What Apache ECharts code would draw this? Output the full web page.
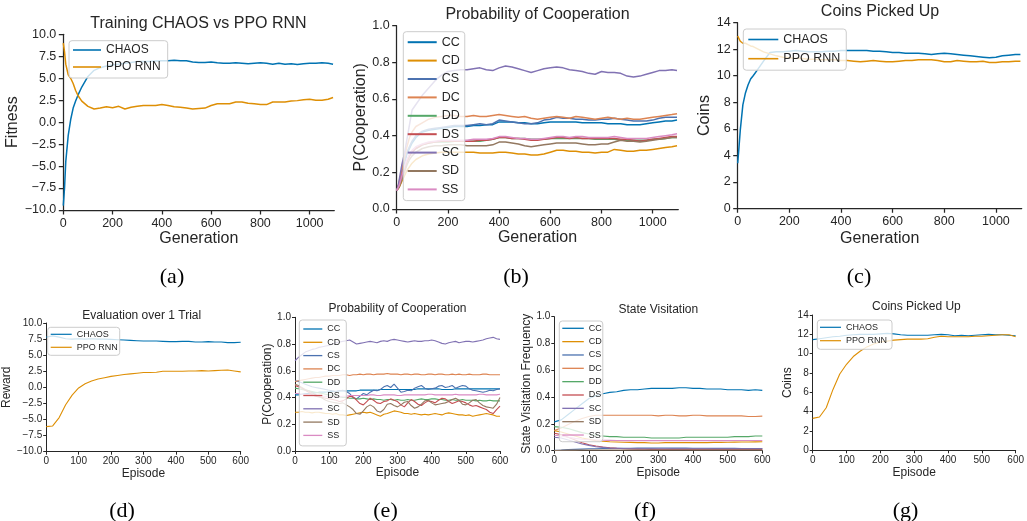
<!DOCTYPE html>
<html>
<head>
<meta charset="utf-8">
<script src="https://cdn.jsdelivr.net/npm/echarts@6/dist/echarts.min.js"></script>
<style>
  html, body { margin: 0; padding: 0; background: #fff; }
  #main { width: 1027px; height: 521px; }
</style>
</head>
<body>
<div id="main"></div>
<script>
// x values (generations for the training runs, episodes for the evaluation runs)
const genX = [0, 5, 10, 20, 30, 40, 50, 60, 75, 100,
  125, 150, 175, 200, 225, 250, 275, 300, 325, 350,
  375, 400, 425, 450, 475, 500, 525, 550, 575, 600,
  625, 650, 675, 700, 725, 750, 775, 800, 825, 850,
  875, 900, 925, 950, 975, 1000, 1025, 1050, 1075, 1095]
const epX = [0, 20, 40, 60, 80, 100, 120, 140, 160, 180,
  200, 220, 240, 260, 280, 300, 320, 340, 360, 380,
  400, 420, 440, 460, 480, 500, 520, 540, 560, 580, 600]
const epFineX = [0, 10, 20, 30, 40, 50, 60, 70, 80, 90,
  100, 110, 120, 130, 140, 150, 160, 170, 180, 190,
  200, 210, 220, 230, 240, 250, 260, 270, 280, 290,
  300, 310, 320, 330, 340, 350, 360, 370, 380, 390,
  400, 410, 420, 430, 440, 450, 460, 470, 480, 490,
  500, 510, 520, 530, 540, 550, 560, 570, 580, 590, 600]

// (a) training fitness
const chaosFit = [-9.5, -7.5, -4.5, -1.5, 0.3, 1.6, 2.4, 3.1, 4.0, 5.2,
  5.9, 6.2, 6.4, 6.5, 6.6, 6.7, 6.8, 6.9, 6.9, 6.9,
  6.95, 7.0, 7.0, 7.05, 7.0, 7.0, 6.85, 6.8, 6.8, 6.85,
  6.75, 6.7, 6.7, 6.75, 6.7, 6.65, 6.7, 6.75, 6.7, 6.6,
  6.7, 6.6, 6.65, 6.55, 6.65, 6.7, 6.7, 6.75, 6.7, 6.6]
const ppoFit = [9.0, 8.0, 6.6, 5.4, 5.0, 4.4, 3.6, 3.0, 2.4, 1.8,
  1.5, 1.6, 1.75, 1.65, 1.8, 1.5, 1.7, 1.8, 1.9, 1.9,
  1.9, 2.0, 1.9, 1.75, 1.7, 1.6, 1.5, 1.55, 1.6, 1.9,
  2.1, 2.1, 2.1, 2.3, 2.3, 2.15, 2.1, 2.0, 2.0, 2.3,
  2.3, 2.3, 2.4, 2.45, 2.55, 2.6, 2.5, 2.5, 2.6, 2.8]

// (b) training probability of cooperation per state
const pcCC = [0.10, 0.12, 0.14, 0.19, 0.25, 0.30, 0.33, 0.36, 0.39, 0.42,
  0.43, 0.435, 0.44, 0.445, 0.45, 0.45, 0.45, 0.455, 0.455, 0.46,
  0.46, 0.475, 0.475, 0.475, 0.47, 0.47, 0.465, 0.465, 0.47, 0.475,
  0.475, 0.475, 0.475, 0.475, 0.47, 0.47, 0.47, 0.47, 0.465, 0.465,
  0.465, 0.46, 0.46, 0.46, 0.465, 0.47, 0.475, 0.48, 0.48, 0.485]
const pcCD = [0.10, 0.11, 0.12, 0.15, 0.18, 0.21, 0.23, 0.25, 0.27, 0.29,
  0.30, 0.305, 0.31, 0.31, 0.31, 0.31, 0.31, 0.31, 0.305, 0.305,
  0.305, 0.31, 0.31, 0.305, 0.30, 0.30, 0.295, 0.295, 0.30, 0.31,
  0.32, 0.32, 0.315, 0.315, 0.31, 0.31, 0.305, 0.31, 0.31, 0.325,
  0.32, 0.315, 0.315, 0.32, 0.32, 0.325, 0.33, 0.335, 0.34, 0.345]
const pcCS = [0.10, 0.12, 0.14, 0.20, 0.26, 0.31, 0.34, 0.37, 0.40, 0.425,
  0.435, 0.44, 0.445, 0.45, 0.455, 0.455, 0.455, 0.46, 0.465, 0.46,
  0.465, 0.485, 0.48, 0.475, 0.47, 0.465, 0.465, 0.47, 0.485, 0.49,
  0.50, 0.495, 0.495, 0.49, 0.49, 0.485, 0.485, 0.49, 0.49, 0.495,
  0.49, 0.485, 0.48, 0.48, 0.48, 0.485, 0.495, 0.50, 0.50, 0.50]
const pcDC = [0.10, 0.12, 0.15, 0.21, 0.28, 0.34, 0.39, 0.42, 0.45, 0.47,
  0.49, 0.50, 0.505, 0.51, 0.51, 0.505, 0.505, 0.51, 0.505, 0.505,
  0.51, 0.515, 0.51, 0.505, 0.50, 0.505, 0.495, 0.49, 0.495, 0.50,
  0.505, 0.50, 0.495, 0.505, 0.50, 0.495, 0.49, 0.495, 0.50, 0.495,
  0.49, 0.495, 0.49, 0.49, 0.495, 0.50, 0.505, 0.51, 0.515, 0.52]
const pcDD = [0.10, 0.11, 0.13, 0.17, 0.22, 0.26, 0.29, 0.31, 0.33, 0.35,
  0.36, 0.365, 0.365, 0.365, 0.37, 0.37, 0.37, 0.37, 0.37, 0.375,
  0.38, 0.39, 0.39, 0.385, 0.385, 0.385, 0.38, 0.38, 0.38, 0.385,
  0.385, 0.385, 0.385, 0.385, 0.385, 0.385, 0.38, 0.38, 0.38, 0.38,
  0.375, 0.375, 0.375, 0.375, 0.375, 0.38, 0.38, 0.385, 0.39, 0.39]
const pcDS = [0.10, 0.11, 0.13, 0.18, 0.22, 0.26, 0.29, 0.31, 0.33, 0.35,
  0.36, 0.365, 0.37, 0.37, 0.37, 0.37, 0.37, 0.37, 0.375, 0.375,
  0.38, 0.39, 0.39, 0.385, 0.385, 0.38, 0.375, 0.375, 0.38, 0.385,
  0.39, 0.39, 0.385, 0.39, 0.385, 0.385, 0.385, 0.385, 0.385, 0.385,
  0.38, 0.38, 0.375, 0.37, 0.375, 0.38, 0.385, 0.39, 0.395, 0.395]
const pcSC = [0.10, 0.12, 0.16, 0.24, 0.30, 0.38, 0.46, 0.54, 0.57, 0.62,
  0.66, 0.70, 0.73, 0.75, 0.755, 0.76, 0.76, 0.765, 0.77, 0.76,
  0.755, 0.77, 0.78, 0.775, 0.765, 0.755, 0.745, 0.755, 0.765, 0.77,
  0.775, 0.77, 0.76, 0.755, 0.75, 0.74, 0.735, 0.75, 0.745, 0.745,
  0.74, 0.725, 0.72, 0.725, 0.735, 0.745, 0.755, 0.755, 0.76, 0.755]
const pcSD = [0.10, 0.11, 0.12, 0.16, 0.20, 0.24, 0.27, 0.29, 0.31, 0.33,
  0.34, 0.345, 0.345, 0.35, 0.35, 0.35, 0.345, 0.345, 0.345, 0.345,
  0.35, 0.365, 0.365, 0.36, 0.355, 0.345, 0.34, 0.345, 0.35, 0.355,
  0.36, 0.36, 0.36, 0.36, 0.355, 0.35, 0.35, 0.355, 0.355, 0.365,
  0.375, 0.37, 0.37, 0.365, 0.37, 0.375, 0.38, 0.385, 0.39, 0.39]
const pcSS = [0.10, 0.11, 0.13, 0.18, 0.23, 0.27, 0.30, 0.32, 0.34, 0.355,
  0.365, 0.37, 0.375, 0.375, 0.375, 0.375, 0.375, 0.38, 0.38, 0.38,
  0.385, 0.395, 0.395, 0.39, 0.385, 0.385, 0.38, 0.38, 0.385, 0.39,
  0.395, 0.395, 0.39, 0.395, 0.395, 0.39, 0.39, 0.39, 0.39, 0.395,
  0.39, 0.385, 0.385, 0.385, 0.385, 0.39, 0.395, 0.40, 0.405, 0.41]

// (c) training coins
const chaosCoins = [3.4, 4.6, 5.9, 7.8, 8.7, 9.3, 9.75, 10.0, 10.4, 11.1,
  11.75, 11.8, 11.8, 11.85, 11.9, 11.85, 11.8, 11.8, 11.8, 11.85,
  11.85, 11.9, 11.9, 11.9, 11.9, 11.9, 11.85, 11.85, 11.8, 11.75,
  11.75, 11.7, 11.7, 11.7, 11.65, 11.6, 11.65, 11.7, 11.65, 11.6,
  11.55, 11.5, 11.45, 11.4, 11.35, 11.4, 11.5, 11.55, 11.6, 11.6]
const ppoCoins = [13.0, 12.9, 12.6, 12.45, 12.45, 12.35, 12.25, 12.2, 12.05, 11.8,
  11.65, 11.5, 11.4, 11.35, 11.3, 11.3, 11.25, 11.25, 11.2, 11.2,
  11.2, 11.15, 11.15, 11.1, 11.05, 11.1, 11.15, 11.1, 11.05, 11.05,
  11.1, 11.15, 11.15, 11.2, 11.2, 11.2, 11.15, 11.05, 11.05, 11.15,
  11.1, 11.05, 11.05, 11.1, 11.0, 11.0, 11.05, 11.05, 11.1, 11.1]

// (d) evaluation reward
const chaosEval = [7.8, 8.0, 7.8, 7.55, 7.5, 7.55, 7.5, 7.55, 7.5, 7.5,
  7.45, 7.4, 7.35, 7.3, 7.25, 7.2, 7.2, 7.2, 7.15, 7.1,
  7.1, 7.15, 7.15, 7.05, 7.05, 7.1, 7.05, 7.05, 6.95, 6.95, 7.0]
const ppoEval = [-6.1, -6.0, -4.7, -2.7, -1.2, -0.1, 0.55, 1.0, 1.3, 1.5,
  1.7, 1.85, 2.0, 2.1, 2.2, 2.3, 2.3, 2.35, 2.5, 2.5,
  2.5, 2.5, 2.55, 2.55, 2.6, 2.55, 2.6, 2.65, 2.7, 2.55, 2.4]

// (e) evaluation probability of cooperation per state
const ecCC = [0.42, 0.42, 0.425, 0.43, 0.43, 0.435, 0.435, 0.44, 0.44, 0.44,
  0.445, 0.445, 0.445, 0.45, 0.45, 0.45, 0.45, 0.45, 0.45, 0.455,
  0.455, 0.455, 0.455, 0.455, 0.455, 0.46, 0.46, 0.46, 0.46, 0.46,
  0.46, 0.46, 0.46, 0.46, 0.46, 0.46, 0.465, 0.465, 0.465, 0.465,
  0.465, 0.465, 0.465, 0.46, 0.46, 0.46, 0.46, 0.465, 0.465, 0.465,
  0.465, 0.465, 0.465, 0.465, 0.465, 0.465, 0.465, 0.465, 0.465, 0.465, 0.465]
const ecCD = [0.29, 0.29, 0.295, 0.29, 0.29, 0.285, 0.29, 0.29, 0.285, 0.28,
  0.28, 0.275, 0.28, 0.27, 0.27, 0.265, 0.27, 0.275, 0.28, 0.285,
  0.29, 0.285, 0.29, 0.28, 0.27, 0.26, 0.275, 0.28, 0.29, 0.30,
  0.295, 0.29, 0.28, 0.28, 0.275, 0.28, 0.275, 0.27, 0.275, 0.27,
  0.275, 0.28, 0.275, 0.27, 0.28, 0.285, 0.28, 0.275, 0.27, 0.27,
  0.265, 0.27, 0.26, 0.265, 0.27, 0.275, 0.28, 0.275, 0.27, 0.26, 0.26]
const ecCS = [0.525, 0.52, 0.51, 0.50, 0.49, 0.48, 0.475, 0.47, 0.465, 0.46,
  0.455, 0.45, 0.445, 0.45, 0.455, 0.445, 0.43, 0.40, 0.39, 0.41,
  0.43, 0.42, 0.44, 0.455, 0.45, 0.46, 0.48, 0.49, 0.475, 0.50,
  0.47, 0.44, 0.445, 0.455, 0.45, 0.47, 0.48, 0.49, 0.47, 0.46,
  0.465, 0.47, 0.485, 0.49, 0.475, 0.48, 0.49, 0.47, 0.48, 0.49,
  0.485, 0.465, 0.455, 0.45, 0.445, 0.44, 0.445, 0.455, 0.45, 0.46, 0.465]
const ecDC = [0.52, 0.525, 0.53, 0.535, 0.54, 0.545, 0.55, 0.55, 0.555, 0.56,
  0.56, 0.565, 0.565, 0.565, 0.57, 0.57, 0.565, 0.57, 0.57, 0.575,
  0.57, 0.575, 0.575, 0.57, 0.575, 0.575, 0.575, 0.58, 0.575, 0.575,
  0.575, 0.57, 0.575, 0.575, 0.57, 0.575, 0.575, 0.57, 0.57, 0.575,
  0.575, 0.57, 0.575, 0.575, 0.57, 0.57, 0.575, 0.57, 0.575, 0.57,
  0.57, 0.575, 0.57, 0.57, 0.57, 0.575, 0.575, 0.57, 0.57, 0.57, 0.57]
const ecDD = [0.47, 0.465, 0.46, 0.455, 0.45, 0.445, 0.44, 0.435, 0.43, 0.425,
  0.42, 0.415, 0.41, 0.405, 0.40, 0.40, 0.395, 0.395, 0.39, 0.39,
  0.395, 0.39, 0.385, 0.39, 0.385, 0.385, 0.38, 0.385, 0.385, 0.38,
  0.385, 0.38, 0.38, 0.385, 0.38, 0.38, 0.385, 0.39, 0.385, 0.385,
  0.39, 0.39, 0.385, 0.385, 0.38, 0.38, 0.385, 0.38, 0.38, 0.385,
  0.38, 0.38, 0.38, 0.375, 0.38, 0.375, 0.375, 0.38, 0.375, 0.375, 0.375]
const ecDS = [0.49, 0.48, 0.47, 0.455, 0.44, 0.42, 0.41, 0.405, 0.40, 0.395,
  0.39, 0.385, 0.38, 0.37, 0.375, 0.39, 0.41, 0.405, 0.38, 0.355,
  0.345, 0.37, 0.395, 0.38, 0.36, 0.355, 0.37, 0.375, 0.39, 0.38,
  0.37, 0.345, 0.33, 0.36, 0.385, 0.37, 0.35, 0.34, 0.36, 0.375,
  0.37, 0.36, 0.38, 0.395, 0.39, 0.37, 0.355, 0.365, 0.375, 0.37,
  0.36, 0.345, 0.335, 0.34, 0.33, 0.32, 0.31, 0.29, 0.28, 0.31, 0.335]
const ecSC = [0.675, 0.70, 0.72, 0.74, 0.75, 0.76, 0.765, 0.775, 0.78, 0.785,
  0.79, 0.80, 0.81, 0.815, 0.82, 0.825, 0.83, 0.815, 0.80, 0.805,
  0.81, 0.815, 0.82, 0.815, 0.81, 0.82, 0.825, 0.82, 0.83, 0.835,
  0.83, 0.825, 0.82, 0.815, 0.82, 0.825, 0.82, 0.82, 0.825, 0.825,
  0.83, 0.825, 0.815, 0.805, 0.80, 0.81, 0.815, 0.82, 0.81, 0.815,
  0.82, 0.82, 0.815, 0.82, 0.825, 0.83, 0.84, 0.845, 0.85, 0.84, 0.835]
const ecSD = [0.50, 0.49, 0.475, 0.46, 0.45, 0.435, 0.42, 0.41, 0.395, 0.38,
  0.37, 0.365, 0.36, 0.355, 0.36, 0.345, 0.33, 0.31, 0.28, 0.275,
  0.30, 0.33, 0.345, 0.33, 0.30, 0.29, 0.31, 0.35, 0.355, 0.34,
  0.33, 0.345, 0.365, 0.37, 0.34, 0.32, 0.33, 0.35, 0.375, 0.38,
  0.36, 0.345, 0.35, 0.355, 0.36, 0.37, 0.385, 0.395, 0.38, 0.35,
  0.345, 0.36, 0.38, 0.385, 0.36, 0.34, 0.33, 0.325, 0.32, 0.35, 0.40]
const ecSS = [0.43, 0.43, 0.425, 0.425, 0.42, 0.42, 0.415, 0.415, 0.41, 0.41,
  0.41, 0.41, 0.405, 0.405, 0.41, 0.41, 0.415, 0.415, 0.415, 0.415,
  0.415, 0.415, 0.42, 0.42, 0.415, 0.415, 0.42, 0.42, 0.42, 0.42,
  0.415, 0.415, 0.42, 0.42, 0.42, 0.42, 0.42, 0.42, 0.42, 0.425,
  0.425, 0.42, 0.42, 0.42, 0.42, 0.42, 0.42, 0.425, 0.42, 0.42,
  0.42, 0.42, 0.42, 0.42, 0.425, 0.425, 0.42, 0.42, 0.42, 0.42, 0.425]

// (f) state visitation frequency
const svCC = [0.215, 0.23, 0.27, 0.31, 0.35, 0.39, 0.41, 0.425, 0.435, 0.44,
  0.45, 0.455, 0.455, 0.46, 0.465, 0.465, 0.465, 0.465, 0.47, 0.47,
  0.465, 0.465, 0.46, 0.46, 0.46, 0.455, 0.455, 0.455, 0.45, 0.455, 0.45]
const svCD = [0.15, 0.14, 0.125, 0.11, 0.095, 0.085, 0.075, 0.07, 0.067, 0.065,
  0.063, 0.062, 0.06, 0.06, 0.058, 0.058, 0.06, 0.06, 0.06, 0.06,
  0.06, 0.06, 0.06, 0.062, 0.062, 0.063, 0.064, 0.065, 0.065, 0.066, 0.067]
const svCS = [0.003, 0.005, 0.008, 0.01, 0.012, 0.014, 0.015, 0.016, 0.017, 0.018,
  0.018, 0.018, 0.019, 0.019, 0.019, 0.02, 0.02, 0.019, 0.019, 0.019,
  0.018, 0.018, 0.018, 0.017, 0.017, 0.017, 0.017, 0.016, 0.016, 0.016, 0.016]
const svDC = [0.15, 0.17, 0.195, 0.22, 0.24, 0.255, 0.265, 0.265, 0.265, 0.265,
  0.265, 0.265, 0.265, 0.265, 0.265, 0.26, 0.265, 0.265, 0.26, 0.26,
  0.265, 0.265, 0.26, 0.26, 0.26, 0.26, 0.26, 0.26, 0.255, 0.255, 0.258]
const svDD = [0.18, 0.175, 0.165, 0.15, 0.135, 0.125, 0.115, 0.11, 0.105, 0.105,
  0.10, 0.10, 0.10, 0.10, 0.095, 0.095, 0.095, 0.095, 0.095, 0.10,
  0.10, 0.10, 0.10, 0.10, 0.10, 0.10, 0.105, 0.105, 0.105, 0.11, 0.11]
const svDS = [0.13, 0.12, 0.10, 0.08, 0.06, 0.045, 0.035, 0.028, 0.022, 0.018,
  0.015, 0.013, 0.012, 0.011, 0.01, 0.01, 0.01, 0.01, 0.01, 0.01,
  0.01, 0.01, 0.01, 0.01, 0.01, 0.01, 0.01, 0.01, 0.01, 0.01, 0.01]
const svSC = [0.10, 0.095, 0.08, 0.065, 0.05, 0.04, 0.03, 0.025, 0.02, 0.018,
  0.016, 0.015, 0.015, 0.015, 0.014, 0.014, 0.014, 0.014, 0.014, 0.014,
  0.014, 0.014, 0.014, 0.014, 0.014, 0.014, 0.014, 0.014, 0.014, 0.014, 0.014]
const svSD = [0.002, 0.003, 0.004, 0.004, 0.005, 0.005, 0.005, 0.005, 0.005, 0.005,
  0.005, 0.005, 0.005, 0.005, 0.005, 0.005, 0.005, 0.005, 0.005, 0.005,
  0.005, 0.005, 0.005, 0.005, 0.005, 0.005, 0.005, 0.005, 0.005, 0.005, 0.005]
const svSS = [0.115, 0.11, 0.10, 0.092, 0.086, 0.082, 0.08, 0.078, 0.077, 0.076,
  0.075, 0.075, 0.075, 0.075, 0.075, 0.075, 0.075, 0.075, 0.075, 0.075,
  0.075, 0.075, 0.075, 0.075, 0.075, 0.075, 0.076, 0.076, 0.076, 0.076, 0.076]

// (g) evaluation coins
const chaosCoinsEval = [11.45, 11.55, 11.65, 11.75, 11.8, 11.9, 11.95, 12.0, 12.0, 12.0,
  12.05, 12.1, 12.05, 11.95, 11.9, 11.9, 11.9, 11.9, 11.95, 12.0,
  11.95, 11.85, 11.9, 11.85, 11.9, 11.95, 12.0, 11.95, 11.95, 11.9, 11.85]
const ppoCoinsEval = [3.3, 3.45, 4.4, 6.3, 7.9, 8.9, 9.7, 10.25, 10.7, 11.0,
  11.2, 11.3, 11.4, 11.45, 11.5, 11.5, 11.5, 11.55, 11.7, 11.8,
  11.75, 11.75, 11.75, 11.75, 11.8, 11.8, 11.85, 11.9, 11.95, 11.95, 11.75]

const FONT = "'Liberation Sans', Arial, sans-serif"
const SERIF = "'Liberation Serif', 'Times New Roman', serif"
const INK = '#262626'
const colors = {
  CHAOS: '#0173b2', 'PPO RNN': '#de8f05',
  CC: '#0173b2', CD: '#de8f05', CS: '#4c72b0', DC: '#dd8452', DD: '#55a868',
  DS: '#c44e52', SC: '#8172b3', SD: '#937860', SS: '#da8bc3'
}

const pair = (xs, ys) => xs.map((x, i) => [x, ys[i]])
const genTicks = [0, 200, 400, 600, 800, 1000]
const epTicks = [0, 100, 200, 300, 400, 500, 600]

const panels = [
  {
    grid: { left: 63.3, top: 34.3, width: 271, height: 175.7 },
    xMax: 1100, xTicks: genTicks, y: [-10, 10, 2.5, 1],
    title: 'Training CHAOS vs PPO RNN', titleAt: [198.5, 23.5],
    xName: 'Generation', xGap: 21, yName: 'Fitness', yGap: 38, big: true,
    lines: [['CHAOS', genX, chaosFit], ['PPO RNN', genX, ppoFit]],
    legend: { left: 69, top: 40.7, pad: [3.3, 7, 5, 4], iw: 28, ih: 12, gap: 5, fs: 12, lw: 1.6 },
    sub: '(a)', subAt: [172, 277]
  },
  {
    grid: { left: 396.7, top: 25.7, width: 281.6, height: 183.3 },
    xMax: 1100, xTicks: genTicks, y: [0, 1, 0.2, 1],
    title: 'Probability of Cooperation', titleAt: [537.5, 14.5],
    xName: 'Generation', xGap: 21, yName: 'P(Cooperation)', yGap: 28, big: true,
    lines: [['CC', genX, pcCC], ['CD', genX, pcCD], ['CS', genX, pcCS], ['DC', genX, pcDC],
      ['DD', genX, pcDD], ['DS', genX, pcDS], ['SC', genX, pcSC], ['SD', genX, pcSD], ['SS', genX, pcSS]],
    legend: { left: 403.3, top: 31.7, pad: [4, 5, 4.7, 4.4], iw: 29, ih: 12, gap: 5.4, fs: 12.5, lw: 2 },
    sub: '(b)', subAt: [516, 277]
  },
  {
    grid: { left: 737.7, top: 22.7, width: 284, height: 185.6 },
    xMax: 1100, xTicks: genTicks, y: [0, 14, 2, 0],
    title: 'Coins Picked Up', titleAt: [880, 11.5],
    xName: 'Generation', xGap: 22, yName: 'Coins', yGap: 23.7, big: true,
    lines: [['CHAOS', genX, chaosCoins], ['PPO RNN', genX, ppoCoins]],
    legend: { left: 743.3, top: 29, pad: [4, 6, 5, 5], iw: 30, ih: 12, gap: 6.2, fs: 12.5, lw: 1.6 },
    sub: '(c)', subAt: [859, 277]
  },
  {
    grid: { left: 42.7, top: 323, width: 198, height: 128.7 },
    xMax: 600, xTicks: epTicks, y: [-10, 10, 2.5, 1],
    title: 'Evaluation over 1 Trial', titleAt: [141.7, 315.8],
    xName: 'Episode', xGap: 15.3, yName: 'Reward', yGap: 27, big: false,
    lines: [['CHAOS', epX, chaosEval], ['PPO RNN', epX, ppoEval]],
    legend: { left: 47.7, top: 327.3, pad: [2.5, 2, 3.5, 3], iw: 21, ih: 9, gap: 4, fs: 9, lw: 1.2 },
    sub: '(d)', subAt: [122, 511]
  },
  {
    grid: { left: 295, top: 317.3, width: 205, height: 133.7 },
    xMax: 600, xTicks: epTicks, y: [0, 1, 0.2, 1],
    title: 'Probability of Cooperation', titleAt: [397.5, 309],
    xName: 'Episode', xGap: 15.5, yName: 'P(Cooperation)', yGap: 20.5, big: false,
    lines: [['CC', epFineX, ecCC], ['CD', epFineX, ecCD], ['CS', epFineX, ecCS], ['DC', epFineX, ecDC],
      ['DD', epFineX, ecDD], ['DS', epFineX, ecDS], ['SC', epFineX, ecSC], ['SD', epFineX, ecSD], ['SS', epFineX, ecSS]],
    legend: { left: 299.3, top: 320, pad: [4.5, 6, 6, 4], iw: 19, ih: 9, gap: 4.3, fs: 9, lw: 1.3 },
    sub: '(e)', subAt: [385.5, 511]
  },
  {
    grid: { left: 554.3, top: 316.7, width: 208, height: 134 },
    xMax: 600, xTicks: epTicks, y: [0, 1, 0.2, 1],
    title: 'State Visitation', titleAt: [658.3, 309.5],
    xName: 'Episode', xGap: 15.5, yName: 'State Visitation Frequency', yGap: 21, big: false,
    lines: [['CC', epX, svCC], ['CD', epX, svCD], ['CS', epX, svCS], ['DC', epX, svDC],
      ['DD', epX, svDD], ['DS', epX, svDS], ['SC', epX, svSC], ['SD', epX, svSD], ['SS', epX, svSS]],
    legend: { left: 559.3, top: 321, pad: [2.8, 1, 2.2, 3], iw: 21.5, ih: 9, gap: 4.34, fs: 9, lw: 1.3 },
    sub: '(f)', subAt: [645, 511]
  },
  {
    grid: { left: 812.7, top: 315, width: 207.3, height: 135.3 },
    xMax: 600, xTicks: epTicks, y: [0, 14, 2, 0],
    title: 'Coins Picked Up', titleAt: [916.4, 307],
    xName: 'Episode', xGap: 16, yName: 'Coins', yGap: 19.2, big: false,
    lines: [['CHAOS', epX, chaosCoinsEval], ['PPO RNN', epX, ppoCoinsEval]],
    legend: { left: 817.3, top: 320, pad: [2.8, 5, 4.1, 2.7], iw: 21, ih: 9, gap: 4.4, fs: 9, lw: 1.2 },
    sub: '(g)', subAt: [905.5, 511]
  }
]

const grids = [], xAxes = [], yAxes = [], series = [], legends = [], texts = []

panels.forEach((p, i) => {
  const big = p.big
  const lw = big ? 1.25 : 1
  const tickFs = big ? 12.5 : 10
  const nameFs = big ? 16 : 12
  const axisLine = { show: true, onZero: false, lineStyle: { color: INK, width: lw } }
  const axisTick = { show: true, length: big ? 4.5 : 3, lineStyle: { color: INK, width: lw } }
  const nameStyle = { fontSize: nameFs, color: INK, fontFamily: FONT }

  grids.push(Object.assign({ containLabel: false }, p.grid))

  xAxes.push({
    type: 'value', gridIndex: i, min: 0, max: p.xMax,
    axisLine: axisLine,
    axisTick: Object.assign({ customValues: p.xTicks }, axisTick),
    axisLabel: {
      customValues: p.xTicks, color: INK, fontSize: tickFs, fontFamily: FONT,
      margin: big ? 7 : 5, formatter: v => String(v)
    },
    splitLine: { show: false },
    name: p.xName, nameLocation: 'middle', nameGap: p.xGap, nameTextStyle: nameStyle
  })

  const [ymin, ymax, ystep, dec] = p.y
  yAxes.push({
    type: 'value', gridIndex: i, min: ymin, max: ymax, interval: ystep,
    axisLine: axisLine,
    axisTick: axisTick,
    axisLabel: {
      color: INK, fontSize: tickFs, fontFamily: FONT, margin: big ? 7 : 4,
      formatter: v => v.toFixed(dec).replace('-', '\u2212')
    },
    splitLine: { show: false },
    name: p.yName, nameLocation: 'middle', nameGap: p.yGap, nameRotate: 90, nameTextStyle: nameStyle
  })

  p.lines.forEach(([name, xs, ys]) => {
    series.push({
      type: 'line', name: name, xAxisIndex: i, yAxisIndex: i,
      data: pair(xs, ys), symbol: 'none', showSymbol: false,
      lineStyle: { color: colors[name], width: big ? 1.5 : 1.1 },
      itemStyle: { color: colors[name] },
      emphasis: { disabled: true }
    })
  })

  const lg = p.legend
  legends.push({
    data: p.lines.map(l => l[0]),
    orient: 'vertical', left: lg.left, top: lg.top, padding: lg.pad,
    itemWidth: lg.iw, itemHeight: lg.ih, itemGap: lg.gap,
    icon: 'path://M0,0H' + lg.iw + 'V' + lg.lw + 'H0Z',
    itemStyle: { borderWidth: 0 },
    textStyle: { fontSize: lg.fs, color: INK, fontFamily: FONT },
    backgroundColor: 'rgba(255,255,255,0.8)',
    borderColor: '#cccccc', borderWidth: 1, borderRadius: 3,
    selectedMode: false
  })

  texts.push({
    type: 'text', x: p.titleAt[0], y: p.titleAt[1], silent: true,
    style: {
      text: p.title, fill: INK, fontSize: nameFs, fontFamily: FONT,
      align: 'center', verticalAlign: 'middle', textAlign: 'center', textVerticalAlign: 'middle'
    }
  })
  texts.push({
    type: 'text', x: p.subAt[0], y: p.subAt[1], silent: true,
    style: {
      text: p.sub, fill: '#000', fontSize: 22, fontFamily: SERIF,
      align: 'center', verticalAlign: 'middle', textAlign: 'center', textVerticalAlign: 'middle'
    }
  })
})

const chart = echarts.init(document.getElementById('main'), null, { renderer: 'canvas' })
chart.setOption({
  animation: false,
  backgroundColor: '#ffffff',
  textStyle: { fontFamily: FONT },
  grid: grids,
  xAxis: xAxes,
  yAxis: yAxes,
  legend: legends,
  graphic: { elements: texts },
  series: series
})
</script>
</body>
</html>
